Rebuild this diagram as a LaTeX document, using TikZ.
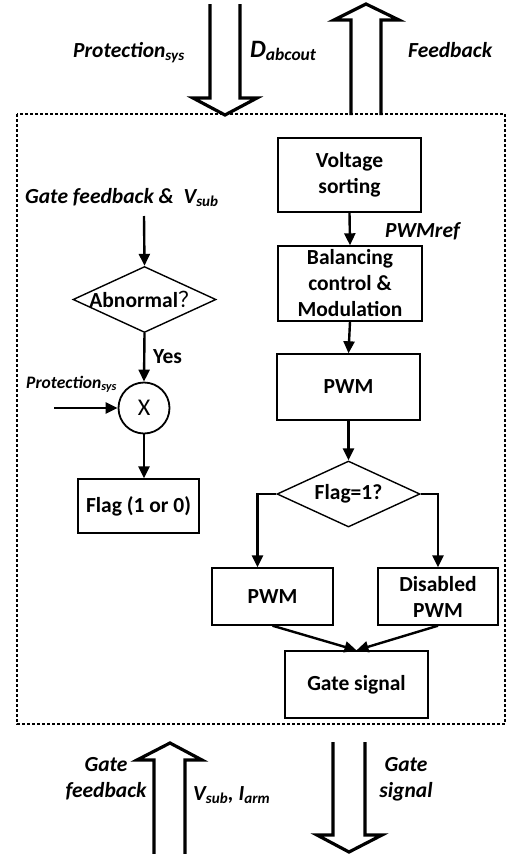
\documentclass[tikz,border=0pt]{standalone}
\usepackage{fontspec}
\setmainfont{Carlito}
\newfontfamily\cjk{Noto Sans CJK SC}
\usetikzlibrary{arrows.meta,shapes.geometric}

\tikzset{
  box/.style={draw, line width=1.4pt, inner sep=0pt, align=center,
    font=\bfseries\fontsize{21.5}{26}\selectfont},
  decision/.style={draw, diamond, line width=1.4pt, inner sep=0pt,
    minimum width=143pt, minimum height=66pt,
    font=\bfseries\fontsize{21.5}{26}\selectfont},
  flow/.style={-{Triangle[length=12pt,width=11pt]}, line width=2.4pt},
  bigarrow/.style={line width=3.2pt, miter limit=10},
  lbl/.style={inner sep=0pt, align=center,
    font=\bfseries\itshape\fontsize{21.5}{26}\selectfont},
}

\begin{document}
\begin{tikzpicture}[x=1pt,y=-1pt]
\useasboundingbox (0,0) rectangle (511,854);
% Frame
\draw[line width=1.4pt, dash pattern=on 3pt off 2pt] (17,114) rectangle (505,724);
%
% Block arrows in and out
\draw[bigarrow] (210,4) -- (210,98) -- (193,98) -- (225,115) -- (257,98) -- (240,98) -- (240,4);
\draw[bigarrow] (351,115) -- (351,20) -- (334,20) -- (366,4) -- (399,20) -- (381,20) -- (381,115);
\draw[bigarrow] (154,856) -- (154,760) -- (137,760) -- (170,743) -- (202,760) -- (185,760) -- (185,856);
\draw[bigarrow] (333,742) -- (333,835) -- (317,835) -- (349,852) -- (382,835) -- (365,835) -- (365,742);
\node[lbl, anchor=base west] (protop) at (73,57) {Protection\textsubscript{sys}};
\node[lbl, anchor=base west] (dabc) at (250,57) {\fontsize{25}{30}\selectfont D\textsubscript{abcout}};
\node[lbl, anchor=base west] (fbk) at (408,57) {Feedback};
\node[lbl] (gfb) at (106,779) {Gate\\feedback};
\node[lbl, anchor=base west] (vsub) at (193,800) {V\textsubscript{sub}, I\textsubscript{arm}};
\node[lbl] (gsig) at (406,779) {Gate\\signal};
%
% Protection path
\node[lbl, anchor=base west] (gin) at (25,203) {Gate feedback \&\ \ V\textsubscript{sub}};
\coordinate (gtop) at (144,216);
\node[decision] (abn) at (144.5,299.5) {\makebox[0pt]{Abnormal{\mdseries\cjk ？}}};
\node[draw, circle, line width=1.8pt, minimum size=51pt, inner sep=0pt,
  font=\fontsize{24}{28}\selectfont] (mul) at (144,408) {X};
\node[lbl, anchor=base west] (yes) at (153,363) {\upshape Yes};
\node[lbl, anchor=base west] (prosmall) at (26,388) {\fontsize{17.5}{21}\selectfont Protection\textsubscript{sys}};
\coordinate (pin) at (54,408);
\node[box, minimum width=121pt, minimum height=54pt] (flag) at (138.5,506) {Flag (1 or 0)};
\draw[flow] (gtop) -- (abn.north);
\draw[flow] (abn.south) -- (mul.north);
\draw[flow] (pin) -- (mul.west);
\draw[flow] (mul.south) -- (mul.south |- flag.north);
%
% Modulation path
\node[box, minimum width=143pt, minimum height=74pt] (vsort) at (349.5,175) {Voltage\\sorting};
\node[lbl, anchor=base west] (pref) at (385,237) {PWMref};
\node[box, minimum width=144pt, minimum height=75pt] (bal) at (350,283.5) {Balancing\\control \&\\Modulation};
\node[box, minimum width=143pt, minimum height=66pt] (pwm) at (348.5,387) {PWM};
\node[decision] (flg) at (348.5,494) {\makebox[0pt]{Flag=1?}};
\node[box, minimum width=121pt, minimum height=57pt] (pwmon) at (272.5,596.5) {PWM};
\node[box, minimum width=120pt, minimum height=57pt] (pwmoff) at (438,596.5) {Disabled\\PWM};
\node[box, minimum width=143pt, minimum height=67pt] (gate) at (356.5,684.5) {Gate signal};
\draw[flow] (vsort.south) -- (bal.north);
\draw[flow] (bal.south) -- (pwm.north);
\draw[flow] (pwm.south) -- (flg.north);
\draw[flow] (flg.west) -| ([xshift=-15pt]pwmon.north);
\draw[flow] (flg.east) -| (pwmoff.north);
\draw[flow] (pwmon.south) -- (gate.north);
\draw[flow] (pwmoff.south) -- (gate.north);
%
\end{tikzpicture}
\end{document}
